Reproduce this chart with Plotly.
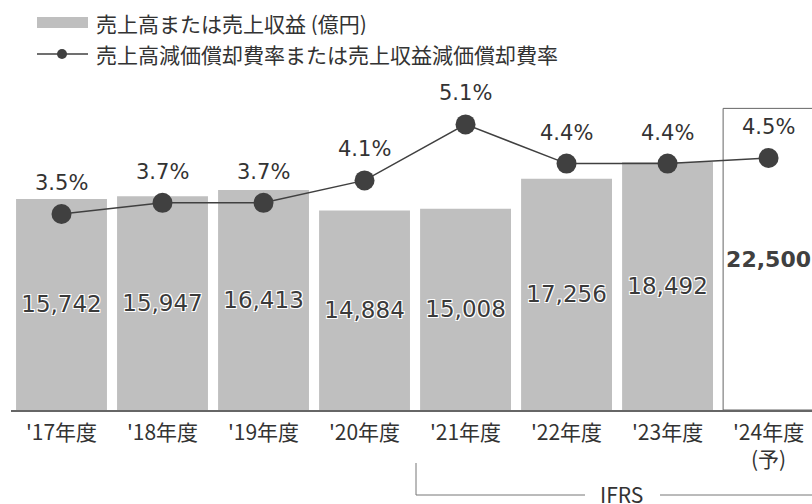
import plotly.graph_objects as go

# ---- data ----
years = ["'17年度", "'18年度", "'19年度", "'20年度", "'21年度", "'22年度", "'23年度"]
forecast_year = ["'24年度<br>(予)"]
revenue = [15742, 15947, 16413, 14884, 15008, 17256, 18492]
revenue_forecast = [22500]
depr_rate = [3.5, 3.7, 3.7, 4.1, 5.1, 4.4, 4.4, 4.5]

categories = years + forecast_year

# ---- layout constants (pixels) ----
W, H = 812, 504
ML, MR, MT, MB = 11, 0, 80, 94
PLOT_W = W - ML - MR
PLOT_H = H - MT - MB

JP = "Noto Sans CJK JP"
NUM = "DejaVu Sans"
TXT = "#333333"
BAR = "#bfbfbf"
LINE = "#404040"


def px_x(x):
    return (x - ML) / PLOT_W


def px_y(y):
    return (H - MB - y) / PLOT_H


fig = go.Figure()

# actual revenue bars
fig.add_trace(go.Bar(
    x=years, y=revenue,
    marker=dict(color=BAR, line=dict(width=0)),
    width=0.9,
    texttemplate="%{y:,.0f}",
    textposition="inside",
    insidetextanchor="middle",
    constraintext="none",
    textfont=dict(family=NUM, size=23, color="#3a3a3a",
                  shadow="1px 1px 0 #fff, -1px -1px 0 #fff, 1px -1px 0 #fff, -1px 1px 0 #fff"),
    showlegend=False,
    hoverinfo="skip",
))

# forecast bar (outlined)
fig.add_trace(go.Bar(
    x=forecast_year, y=revenue_forecast,
    marker=dict(color="white", line=dict(color="#666666", width=1)),
    width=0.9,
    texttemplate="<b>%{y:,.0f}</b>",
    textposition="inside",
    insidetextanchor="middle",
    constraintext="none",
    textfont=dict(family=NUM, size=22, color="#404040"),
    showlegend=False,
    hoverinfo="skip",
))

# depreciation ratio line
fig.add_trace(go.Scatter(
    x=categories, y=depr_rate,
    yaxis="y2",
    mode="lines+markers",
    line=dict(color=LINE, width=1.5),
    marker=dict(color=LINE, size=20),
    cliponaxis=False,
    showlegend=False,
    hoverinfo="skip",
))

shapes = []
annotations = []

# ratio labels above each point
for cat, rate in zip(categories, depr_rate):
    annotations.append(dict(x=cat, y=rate, xref="x", yref="y2", yshift=31,
                            text=f"{rate:.1f}%", showarrow=False,
                            xanchor="center", yanchor="middle",
                            font=dict(family=NUM, size=21, color=TXT)))

# legend: revenue swatch
shapes.append(dict(type="rect", xref="paper", yref="paper",
                   x0=px_x(37), x1=px_x(88), y0=px_y(28), y1=px_y(17),
                   fillcolor=BAR, line=dict(width=0)))
annotations.append(dict(xref="paper", yref="paper", x=px_x(94), y=px_y(23),
                        xanchor="left", yanchor="middle", showarrow=False,
                        height=24, valign="middle",
                        text="売上高または売上収益 (億円)",
                        font=dict(family=JP, size=21, color=TXT)))
# legend: ratio line with dot
shapes.append(dict(type="line", xref="paper", yref="paper",
                   x0=px_x(37), x1=px_x(88), y0=px_y(54), y1=px_y(54),
                   line=dict(color=LINE, width=1.5)))
shapes.append(dict(type="circle", xref="paper", yref="paper",
                   x0=px_x(57), x1=px_x(67), y0=px_y(59), y1=px_y(49),
                   fillcolor=LINE, line=dict(width=0)))
annotations.append(dict(xref="paper", yref="paper", x=px_x(94), y=px_y(54),
                        xanchor="left", yanchor="middle", showarrow=False,
                        height=24, valign="middle",
                        text="売上高減価償却費率または売上収益減価償却費率",
                        font=dict(family=JP, size=21, color=TXT)))

# IFRS bracket below the axis
br_col = "#777777"
shapes.append(dict(type="line", xref="paper", yref="paper",
                   x0=px_x(416), x1=px_x(416), y0=px_y(463), y1=px_y(495),
                   line=dict(color=br_col, width=1)))
shapes.append(dict(type="line", xref="paper", yref="paper",
                   x0=px_x(416), x1=px_x(585), y0=px_y(495), y1=px_y(495),
                   line=dict(color=br_col, width=1)))
shapes.append(dict(type="line", xref="paper", yref="paper",
                   x0=px_x(660), x1=px_x(812), y0=px_y(495), y1=px_y(495),
                   line=dict(color=br_col, width=1)))
annotations.append(dict(xref="paper", yref="paper", x=px_x(621), y=px_y(494),
                        xanchor="center", yanchor="middle", showarrow=False,
                        height=18, valign="middle",
                        text="IFRS", font=dict(family=JP, size=21, color=TXT)))

fig.update_layout(
    width=W, height=H,
    margin=dict(l=ML, r=MR, t=MT, b=MB, pad=0),
    paper_bgcolor="white", plot_bgcolor="white",
    barmode="overlay",
    showlegend=False,
    xaxis=dict(type="category", categoryorder="array", categoryarray=categories,
               range=[-0.5, 7.43], showline=True, linecolor="#666666", linewidth=1.5,
               ticks="", showgrid=False, zeroline=False, ticklabelstandoff=3,
               tickfont=dict(family=JP, size=21, color=TXT)),
    yaxis=dict(range=[0, 24618], visible=False, showgrid=False, zeroline=False),
    yaxis2=dict(range=[0, 5.893], overlaying="y", visible=False,
                showgrid=False, zeroline=False),
    shapes=shapes,
    annotations=annotations,
)

fig.write_html("out.html")
